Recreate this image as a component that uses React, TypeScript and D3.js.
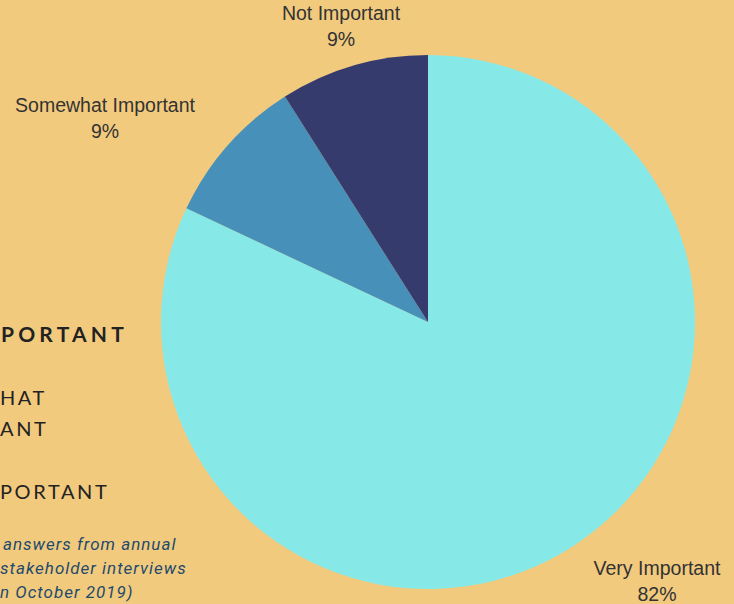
import React from 'react';
import * as d3 from 'd3';

// Survey answers (share of respondents, %)
const categories = ['Very Important', 'Somewhat Important', 'Not Important'];
const shares = [82, 9, 9];
const colors = ['#86E9E8', '#4790B9', '#353B6C'];

// side legend, cut by the left page edge in the source graphic (only the visible part is kept)
const legendLines = [
  { text: 'PORTANT', bold: true, y: 342 },
  { text: 'HAT', bold: false, y: 405 },
  { text: 'ANT', bold: false, y: 436 },
  { text: 'PORTANT', bold: false, y: 499 },
];
const noteLines = ['answers from annual', 'stakeholder interviews', 'n October 2019)'];

const W = 734;
const H = 604;
const cx = 428;
const cy = 322;
const radius = 267;

// label anchors (centre x, first baseline)
const labelPos = [
  { x: 657, y: 575 },
  { x: 105, y: 112 },
  { x: 341, y: 20 },
];

export default function App() {
  const pie = d3.pie<number>().sort(null).value(d => d);
  const arcs = pie(shares);
  const arc = d3.arc<d3.PieArcDatum<number>>().innerRadius(0).outerRadius(radius);

  return (
    <svg
      width={W}
      height={H}
      style={{ position: 'fixed', left: 0, top: 0, display: 'block' }}
    >
      <rect width={W} height={H} fill="#F2CA7E" />

      {legendLines.map((l, i) => (
        <text
          key={i}
          x={l.bold ? 1 : 0}
          y={l.y}
          fontFamily="Lato, 'Open Sans', sans-serif"
          fontSize={l.bold ? 21 : 20}
          fontWeight={l.bold ? 700 : 400}
          letterSpacing={l.bold ? 4.2 : 2.6}
          fill="#222"
        >
          {l.text}
        </text>
      ))}
      {noteLines.map((t, i) => (
        <text
          key={t}
          x={i === 0 ? 3 : 0}
          y={550 + i * 24}
          fontFamily="Roboto, 'Open Sans', sans-serif"
          fontStyle="italic"
          fontSize={17}
          letterSpacing={1}
          fill="#1F4A6B"
        >
          {t}
        </text>
      ))}

      <g transform={`translate(${cx},${cy})`}>
        {arcs.map((a, i) => (
          <path key={categories[i]} d={arc(a) || ''} fill={colors[i]} />
        ))}
      </g>

      {categories.map((c, i) => (
        <text
          key={c}
          x={labelPos[i].x}
          y={labelPos[i].y}
          textAnchor="middle"
          fontFamily="'Liberation Sans', Arial, sans-serif"
          fontSize={19.5}
          fill="#333"
        >
          <tspan x={labelPos[i].x} dy={0}>{c}</tspan>
          <tspan x={labelPos[i].x} dy={25.5}>{d3.format('d')(shares[i])}%</tspan>
        </text>
      ))}
    </svg>
  );
}
